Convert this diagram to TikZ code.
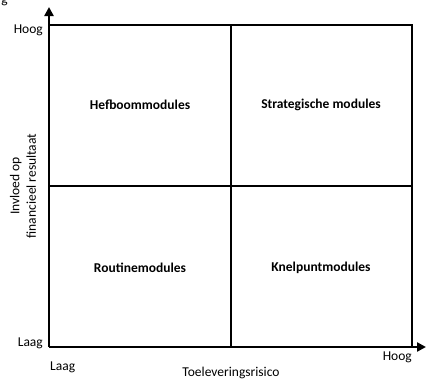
\documentclass[tikz,border=0pt]{standalone}
\usepackage{fontspec}
\setmainfont{Carlito}
\usetikzlibrary{arrows.meta}
\begin{document}
\begin{tikzpicture}[x=1pt,y=-1pt,
  frame/.style={line width=2.8pt},
  axis/.style={line width=2.8pt,-{Triangle[length=9pt,width=9pt]}},
  quad/.style={font=\fontsize{13.5}{16}\selectfont\bfseries},
  tick/.style={font=\fontsize{13.5}{16}\selectfont, inner sep=0pt},
  axlabel/.style={font=\fontsize{13.5}{16.5}\selectfont, inner sep=0pt, align=center}]
\useasboundingbox (0,0) rectangle (426,380);
% corner points of the matrix
\coordinate (o) at (49,347);
\coordinate (ytip) at (49,7);
\coordinate (xtip) at (426,347);
\coordinate (tl) at (49,25);
\coordinate (tr) at (412,25);
\coordinate (br) at (412,347);
\coordinate (mt) at (231,25);
\coordinate (mb) at (231,347);
\coordinate (ml) at (49,186);
\coordinate (mr) at (412,186);
% frame and dividers
\draw[frame] (tl) -- (tr) -- (br);
\draw[frame] (mt) -- (mb);
\draw[frame] (ml) -- (mr);
% axes
\draw[axis] (o) -- (ytip);
\draw[axis] (o) -- (xtip);
% quadrant names
\node[quad] (hef) at (140,105) {Hefboommodules};
\node[quad] (str) at (321,105) {Strategische modules};
\node[quad] (rou) at (140,268) {Routinemodules};
\node[quad] (kne) at (321,268) {Knelpuntmodules};
% scale labels
\node[tick, anchor=east] (yhoog) at (43,30) {Hoog};
\node[tick, anchor=east] (ylaag) at (43,343) {Laag};
\node[tick, anchor=west] (xlaag) at (50,367) {Laag};
\node[tick, anchor=east] (xhoog) at (412,357) {Hoog};
\node[tick, anchor=base] (frag) at (4.5,3) {g};
% axis titles
\node[axlabel] (xtitle) at (231,373) {Toeleveringsrisico};
\node[axlabel, rotate=90] (ytitle) at (23,186) {Invloed op\\financieel resultaat};
\end{tikzpicture}
\end{document}
